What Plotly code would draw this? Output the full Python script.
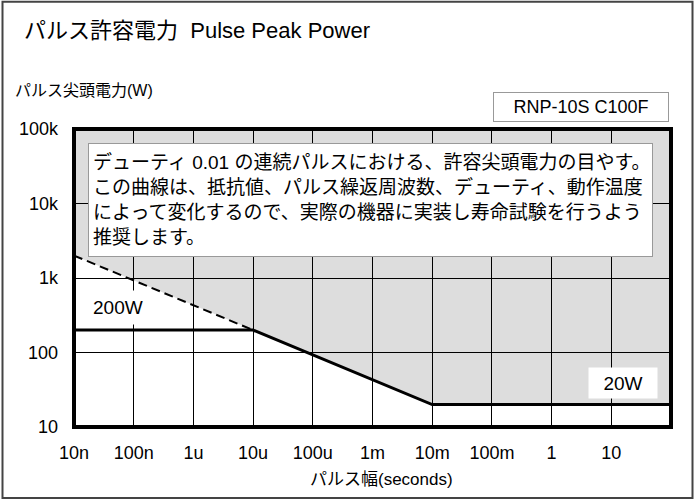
import plotly.graph_objects as go

# ---- data ----
pulse_width = [1e-8, 1e-5, 1e-2, 1e2]          # seconds
allowed_power = [200, 200, 20, 20]             # W (solid limit line)
dashed_x = [1e-8, 1e-5]
dashed_y = [2000, 200]
boundary_x = [1e-8, 1e-5, 1e-2, 1e2]           # upper edge of the white (safe) area
boundary_y = [2000, 200, 20, 20]
x_ticks = [1e-8, 1e-7, 1e-6, 1e-5, 1e-4, 1e-3, 1e-2, 1e-1, 1, 10]
x_labels = ["10n", "100n", "1u", "10u", "100u", "1m", "10m", "100m", "1", "10"]
y_ticks = [10, 100, 1000, 10000, 100000]
y_labels = ["10", "100", "1k", "10k", "100k"]
y_top = 1e5

FONT = "Liberation Sans, Arial, Noto Sans CJK JP, sans-serif"

fig = go.Figure()

# gray (not allowed) region above the boundary, translucent so gridlines stay black
fig.add_trace(go.Scatter(
    x=boundary_x + [boundary_x[-1], boundary_x[0]],
    y=boundary_y + [y_top, y_top],
    mode="none", fill="toself", fillcolor="rgba(0,0,0,0.135)",
    hoverinfo="skip", showlegend=False))

fig.add_trace(go.Scatter(
    x=dashed_x, y=dashed_y, mode="lines",
    line=dict(color="black", width=2, dash="9px,5px"),
    showlegend=False))

fig.add_trace(go.Scatter(
    x=pulse_width, y=allowed_power, mode="lines",
    line=dict(color="black", width=3),
    showlegend=False))

L, R, T, B = 74, 24, 129, 74.5
W, H = 695, 502
pw, ph = W - L - R, H - T - B


def px(xp):
    return (xp - L) / pw


def py(yp):
    return (H - B - yp) / ph


fig.update_layout(
    width=W, height=H,
    margin=dict(l=L, r=R, t=T, b=B),
    paper_bgcolor="white", plot_bgcolor="white",
    font=dict(family=FONT, size=18, color="black"),
    showlegend=False,
    xaxis=dict(type="log", range=[-8, 2], tickvals=x_ticks, ticktext=x_labels,
               showgrid=True, gridcolor="black", gridwidth=1, ticks="",
               ticklabelstandoff=13, showline=False, zeroline=False,
               tickfont=dict(size=18)),
    yaxis=dict(type="log", range=[1, 5], tickvals=y_ticks, ticktext=y_labels,
               showgrid=True, gridcolor="black", gridwidth=1, ticks="",
               ticklabelstandoff=15, showline=False, zeroline=False,
               tickfont=dict(size=18)),
)

shapes = [
    # thick plot frame
    dict(type="rect", xref="paper", yref="paper", x0=0, x1=1, y0=0, y1=1,
         line=dict(color="black", width=4), layer="above"),
    # outer frame of the whole picture
    dict(type="rect", xref="paper", yref="paper",
         x0=px(2.5), x1=px(692.5), y0=py(498.5), y1=py(1.5),
         line=dict(color="#444444", width=2), layer="above"),
]
fig.update_layout(shapes=shapes)

note = ("デューティ 0.01 の連続パルスにおける、許容尖頭電力の目やす。<br>"
        "この曲線は、抵抗値、パルス繰返周波数、デューティ、動作温度<br>"
        "によって変化するので、実際の機器に実装し寿命試験を行うよう<br>"
        "推奨します。")

annotations = [
    dict(text="パルス許容電力  Pulse Peak Power", xref="paper", yref="paper",
         x=px(22), y=py(30), xanchor="left", yanchor="middle", showarrow=False,
         font=dict(size=22)),
    dict(text="パルス尖頭電力(W)", xref="paper", yref="paper",
         x=px(13), y=py(90), xanchor="left", yanchor="middle", showarrow=False,
         font=dict(size=16)),
    dict(text="パルス幅(seconds)", xref="paper", yref="paper",
         x=px(381), y=py(480), xanchor="center", yanchor="middle", showarrow=False,
         font=dict(size=17)),
    dict(text="RNP-10S C100F", xref="paper", yref="paper",
         x=px(581), y=py(107), xanchor="center", yanchor="middle", showarrow=False,
         width=170, height=24, bgcolor="white", bordercolor="#999999",
         borderwidth=1, borderpad=2, font=dict(size=18)),
    dict(text=note, xref="paper", yref="paper",
         x=px(88), y=py(143), xanchor="left", yanchor="top", showarrow=False,
         width=555, height=104, align="left", valign="middle",
         bgcolor="white", bordercolor="#999999", borderwidth=1, borderpad=4,
         font=dict(size=19)),
    dict(text="200W", xref="paper", yref="paper",
         x=px(118), y=py(308), xanchor="center", yanchor="middle", showarrow=False,
         bgcolor="white", borderpad=6, font=dict(size=19)),
    dict(text="20W", xref="paper", yref="paper",
         x=px(623), y=py(383), xanchor="center", yanchor="middle", showarrow=False,
         width=60, height=22, bgcolor="white", borderpad=4, font=dict(size=19)),
]
fig.update_layout(annotations=annotations)

fig.write_html("out.html",
               config={"displayModeBar": False},
               post_script="document.body.style.margin='0px';"
                           "document.body.style.overflow='hidden';")
